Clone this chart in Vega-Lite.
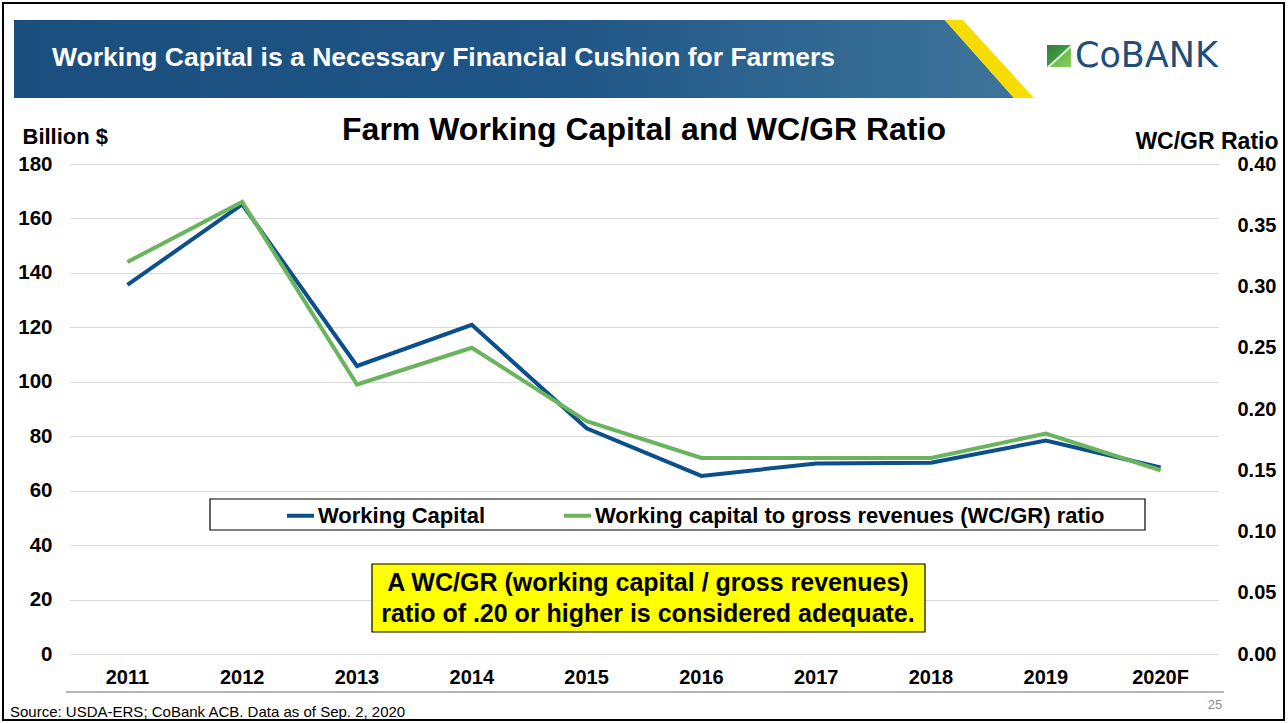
{
  "$schema": "https://vega.github.io/schema/vega-lite/v6.json",
  "width": 1148,
  "height": 490,
  "autosize": {"type": "none"},
  "padding": {"left": 70, "top": 164, "right": 70, "bottom": 69},
  "background": "white",
  "config": {"font": "Liberation Sans", "view": {"stroke": null}},
  "data": {"values": [
    {"year": "2011", "wc": 135.6, "ratio": 0.32},
    {"year": "2012", "wc": 165.2, "ratio": 0.369},
    {"year": "2013", "wc": 105.8, "ratio": 0.22},
    {"year": "2014", "wc": 120.9, "ratio": 0.25},
    {"year": "2015", "wc": 82.9, "ratio": 0.19},
    {"year": "2016", "wc": 65.4, "ratio": 0.16},
    {"year": "2017", "wc": 70.0, "ratio": 0.16},
    {"year": "2018", "wc": 70.3, "ratio": 0.16},
    {"year": "2019", "wc": 78.4, "ratio": 0.18},
    {"year": "2020F", "wc": 68.5, "ratio": 0.15}
  ]},
  "layer": [
    {
      "layer": [
        {
          "mark": {"type": "line", "strokeWidth": 4, "clip": false},
          "encoding": {
            "x": {"field": "year", "type": "nominal", "bandPosition": 0.5,
              "scale": {"type": "band", "paddingInner": 0, "paddingOuter": 0},
              "axis": {"title": null, "labelAngle": 0, "labelFontSize": 20, "labelFontWeight": "bold", "labelColor": "#000000", "labelPadding": 23, "labelBaseline": "middle", "ticks": false, "tickSize": 0, "domain": false, "grid": false}},
            "y": {"field": "wc", "type": "quantitative",
              "scale": {"domain": [0, 180], "nice": false},
              "axis": {"orient": "left", "values": [0, 20, 40, 60, 80, 100, 120, 140, 160, 180], "grid": true, "gridColor": "#d9d9d9", "gridWidth": 1, "domain": false, "ticks": false, "tickSize": 0, "labelFontSize": 20.5, "labelFontWeight": "bold", "labelColor": "#000000", "labelPadding": 18, "title": "Billion $", "titleAngle": 0, "titleX": -48, "titleY": -28, "titleAlign": "left", "titleBaseline": "middle", "titleFontSize": 22, "titleFontWeight": "bold", "titleColor": "#000000"}},
            "color": {"datum": "Working Capital",
              "scale": {"domain": ["Working Capital", "Working capital to gross revenues (WC/GR) ratio"], "range": ["#0b4f8b", "#6ab45e"]},
              "legend": {"orient": "none", "legendX": 215, "legendY": 336, "direction": "horizontal", "title": null, "symbolType": "stroke", "symbolSize": 729, "symbolStrokeWidth": 4, "labelFontSize": 22, "labelFontWeight": "bold", "labelColor": "#000000", "labelLimit": 800, "labelOffset": 2, "columnPadding": 70, "padding": 0}}
          }
        },
        {
          "data": {"values": [{}]},
          "mark": {"type": "rect", "filled": false, "stroke": "#000000", "strokeWidth": 2, "clip": false},
          "encoding": {
            "x": {"datum": "2011", "bandPosition": -0.5836},
            "x2": {"datum": "2020F", "bandPosition": 1.5749},
            "y": {"datum": 239.14, "type": "quantitative"},
            "y2": {"datum": -24.24}
          }
        },
        {
          "data": {"values": [{}]},
          "mark": {"type": "point", "shape": "M -0.99077 -0.075 L 0.79923 -0.075 L 0.93231 0.075 L -0.99077 0.075 Z", "size": 1081600, "filled": true, "opacity": 1, "strokeWidth": 0, "clip": false,
            "fill": {"gradient": "linear", "x1": 0, "y1": 0, "x2": 1, "y2": 0, "stops": [{"offset": 0, "color": "#1a4e7e"}, {"offset": 0.55, "color": "#1f5687"}, {"offset": 1, "color": "#3e7499"}]}},
          "encoding": {
            "x": {"datum": "2015", "bandPosition": 0},
            "y": {"datum": 218.57, "type": "quantitative"}
          }
        },
        {
          "data": {"values": [{}]},
          "mark": {"type": "point", "shape": "M 0.79923 -0.075 L 0.83385 -0.075 L 0.97077 0.075 L 0.93231 0.075 Z", "size": 1081600, "filled": true, "opacity": 1, "strokeWidth": 0, "fill": "#f7dc00", "clip": false},
          "encoding": {
            "x": {"datum": "2015", "bandPosition": 0},
            "y": {"datum": 218.57, "type": "quantitative"}
          }
        },
        {
          "data": {"values": [{}]},
          "mark": {"type": "text", "text": "Working Capital is a Necessary Financial Cushion for Farmers", "align": "left", "baseline": "middle", "fontSize": 26.5, "fontWeight": "bold", "color": "#ffffff", "clip": false},
          "encoding": {
            "x": {"datum": "2011", "bandPosition": -0.1568},
            "y": {"datum": 218.94, "type": "quantitative"}
          }
        },
        {
          "data": {"values": [{}]},
          "mark": {"type": "rect", "clip": false,
            "fill": {"gradient": "linear", "x1": 0, "y1": 0, "x2": 1, "y2": 1, "stops": [{"offset": 0, "color": "#2f7d3a"}, {"offset": 0.48, "color": "#3f9a45"}, {"offset": 0.52, "color": "#ffffff"}, {"offset": 0.58, "color": "#6fbf4f"}, {"offset": 1, "color": "#8ccc5a"}]}},
          "encoding": {
            "x": {"datum": "2019", "bandPosition": 0.5105},
            "x2": {"datum": "2019", "bandPosition": 0.7195},
            "y": {"datum": 223.71, "type": "quantitative"},
            "y2": {"datum": 215.63}
          }
        },
        {
          "data": {"values": [{}]},
          "mark": {"type": "text", "text": "CoBANK", "align": "left", "baseline": "middle", "fontSize": 35, "font": "DejaVu Sans", "color": "#1f4e79", "clip": false},
          "encoding": {
            "x": {"datum": "2019", "bandPosition": 0.7544},
            "y": {"datum": 219.67, "type": "quantitative"}
          }
        },
        {
          "data": {"values": [{}]},
          "mark": {"type": "text", "text": "Farm Working Capital and WC/GR Ratio", "align": "center", "baseline": "middle", "fontSize": 32, "fontWeight": "bold", "color": "#000000", "clip": false},
          "encoding": {
            "x": {"datum": "2016", "bandPosition": 0},
            "y": {"datum": 192.49, "type": "quantitative"}
          }
        },
        {
          "data": {"values": [{}]},
          "mark": {"type": "rect", "fill": "#ffffff", "stroke": "#000000", "strokeWidth": 1.2, "clip": false},
          "encoding": {
            "x": {"datum": "2012", "bandPosition": 0.2195},
            "x2": {"datum": "2020F", "bandPosition": 0.3641},
            "y": {"datum": 56.94, "type": "quantitative"},
            "y2": {"datum": 45.55}
          }
        },
        {
          "data": {"values": [{}]},
          "mark": {"type": "rect", "fill": "#ffff00", "stroke": "#000000", "strokeWidth": 1.2, "clip": false},
          "encoding": {
            "x": {"datum": "2013", "bandPosition": 0.6307},
            "x2": {"datum": "2018", "bandPosition": 0.4477},
            "y": {"datum": 33.06, "type": "quantitative"},
            "y2": {"datum": 8.08}
          }
        },
        {
          "data": {"values": [{}]},
          "mark": {"type": "text", "text": ["A WC/GR (working capital / gross revenues)", "ratio of .20 or higher is considered adequate."], "lineHeight": 31, "align": "center", "baseline": "middle", "fontSize": 25, "fontWeight": "bold", "color": "#000000", "clip": false},
          "encoding": {
            "x": {"datum": "2016", "bandPosition": 0.0348},
            "y": {"datum": 26.08, "type": "quantitative"}
          }
        },
        {
          "data": {"values": [{}]},
          "mark": {"type": "rule", "color": "#b4b4b4", "strokeWidth": 2, "clip": false},
          "encoding": {
            "x": {"datum": "2011", "bandPosition": -0.0348},
            "x2": {"datum": "2020F", "bandPosition": 1.0523},
            "y": {"datum": -13.96, "type": "quantitative"}
          }
        },
        {
          "data": {"values": [{}]},
          "mark": {"type": "text", "text": "Source:  USDA-ERS; CoBank ACB. Data as of Sep. 2, 2020", "align": "left", "baseline": "middle", "fontSize": 15, "color": "#000000", "clip": false},
          "encoding": {
            "x": {"datum": "2011", "bandPosition": -0.5226},
            "y": {"datum": -21.31, "type": "quantitative"}
          }
        },
        {
          "data": {"values": [{}]},
          "mark": {"type": "text", "text": "25", "align": "center", "baseline": "middle", "fontSize": 13, "color": "#8c8c8c", "clip": false},
          "encoding": {
            "x": {"datum": "2020F", "bandPosition": 0.9739},
            "y": {"datum": -18.73, "type": "quantitative"}
          }
        }
      ]
    },
    {
      "mark": {"type": "line", "strokeWidth": 4, "clip": false},
      "encoding": {
        "x": {"field": "year", "type": "nominal", "bandPosition": 0.5},
        "y": {"field": "ratio", "type": "quantitative",
          "scale": {"domain": [0, 0.4], "nice": false},
          "axis": {"orient": "right", "values": [0, 0.05, 0.1, 0.15, 0.2, 0.25, 0.3, 0.35, 0.4], "format": ".2f", "grid": false, "domain": false, "ticks": false, "tickSize": 0, "labelFontSize": 20, "labelFontWeight": "bold", "labelColor": "#000000", "labelPadding": 19, "title": "WC/GR Ratio", "titleAngle": 0, "titleX": 60, "titleY": -23, "titleAlign": "right", "titleBaseline": "middle", "titleFontSize": 23, "titleFontWeight": "bold", "titleColor": "#000000"}},
        "color": {"datum": "Working capital to gross revenues (WC/GR) ratio"}
      }
    }
  ],
  "resolve": {"scale": {"y": "independent"}}
}
